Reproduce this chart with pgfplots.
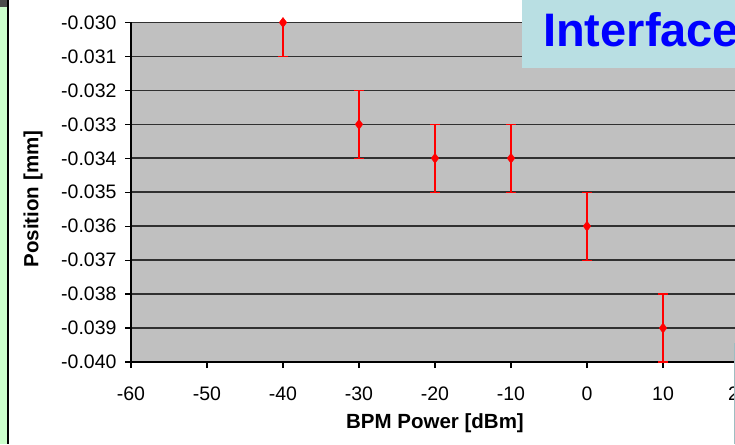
\documentclass[border=0pt]{standalone}
\usepackage{fontspec}
\setmainfont{Liberation Sans}
\usepackage{pgfplots}
\pgfplotsset{compat=1.18}
\definecolor{plotbg}{HTML}{C0C0C0}
\definecolor{boxcyan}{HTML}{B9DFE3}
\definecolor{stripgreen}{HTML}{CCFFCC}
\definecolor{gridc}{HTML}{303030}
\begin{document}
\begin{tikzpicture}[x=1pt,y=1pt]
\clip (0,0) rectangle (735,444);
\fill[white] (0,0) rectangle (735,444);
\begin{axis}[
  at={(131pt,82pt)}, anchor=south west,
  scale only axis, width=608pt, height=339.5pt,
  xmin=-60, xmax=20, ymin=-0.040, ymax=-0.030,
  clip=false, scaled y ticks=false, scaled x ticks=false,
  axis background/.style={fill=plotbg},
  axis x line*=bottom, axis y line*=left,
  axis line style={black, line width=1.5pt},
  xtick={-60,-50,-40,-30,-20,-10,0,10,20},
  xticklabels={-60,-50,-40,-30,-20,-10,0,10,20},
  ytick={-0.040,-0.039,-0.038,-0.037,-0.036,-0.035,-0.034,-0.033,-0.032,-0.031,-0.030},
  yticklabels={-0.040,-0.039,-0.038,-0.037,-0.036,-0.035,-0.034,-0.033,-0.032,-0.031,-0.030},
  tick align=outside, major tick length=6pt,
  tick style={black, line width=1.2pt},
  ymajorgrids, grid style={gridc, line width=1.6pt},
  ticklabel style={font=\fontsize{19.5}{22}\selectfont},
  yticklabel style={xshift=-5pt},
  xticklabel style={yshift=-15pt},
  xlabel={\bfseries BPM Power [dBm]},
  ylabel={\bfseries Position [mm]},
  label style={font=\fontsize{20.5}{23}\selectfont},
  xlabel style={at={(axis description cs:0.5,-0.18)}, anchor=center},
  ylabel style={at={(axis description cs:-0.161,0.48)}, anchor=center},
]
\addplot[red, only marks, mark=diamond*, mark size=5pt,
  error bars/.cd, y dir=minus, y explicit,
  error bar style={red, line width=1.2pt},
  error mark options={red, line width=1.2pt, mark size=5pt, rotate=90}]
  coordinates {(-40,-0.030) +- (0,0.001)};
\addplot[red, only marks, mark=diamond*, mark size=5pt,
  error bars/.cd, y dir=both, y explicit,
  error bar style={red, line width=1.2pt},
  error mark options={red, line width=1.2pt, mark size=5pt, rotate=90}]
  coordinates {
    (-30,-0.033) +- (0,0.001)
    (-20,-0.034) +- (0,0.001)
    (-10,-0.034) +- (0,0.001)
    (0,-0.036) +- (0,0.001)
    (10,-0.039) +- (0,0.001)
  };
\end{axis}
% left strip
\fill[stripgreen] (0,0) rectangle (7,444);
\fill[black] (7,0) rectangle (9,444);
\fill[black!70] (0,437) rectangle (7,444);
% Interface box
\fill[boxcyan] (522,376) rectangle (740,444);
\node[anchor=base west, text=blue, inner sep=0pt, font=\bfseries\fontsize{47}{50}\selectfont] at (543,397) {Interface};
% bottom-right box edge
\fill[white] (734,0) rectangle (740,101);
\draw[boxcyan!85!black, line width=1pt] (734.5,0) -- (734.5,101);
\end{tikzpicture}
\end{document}
